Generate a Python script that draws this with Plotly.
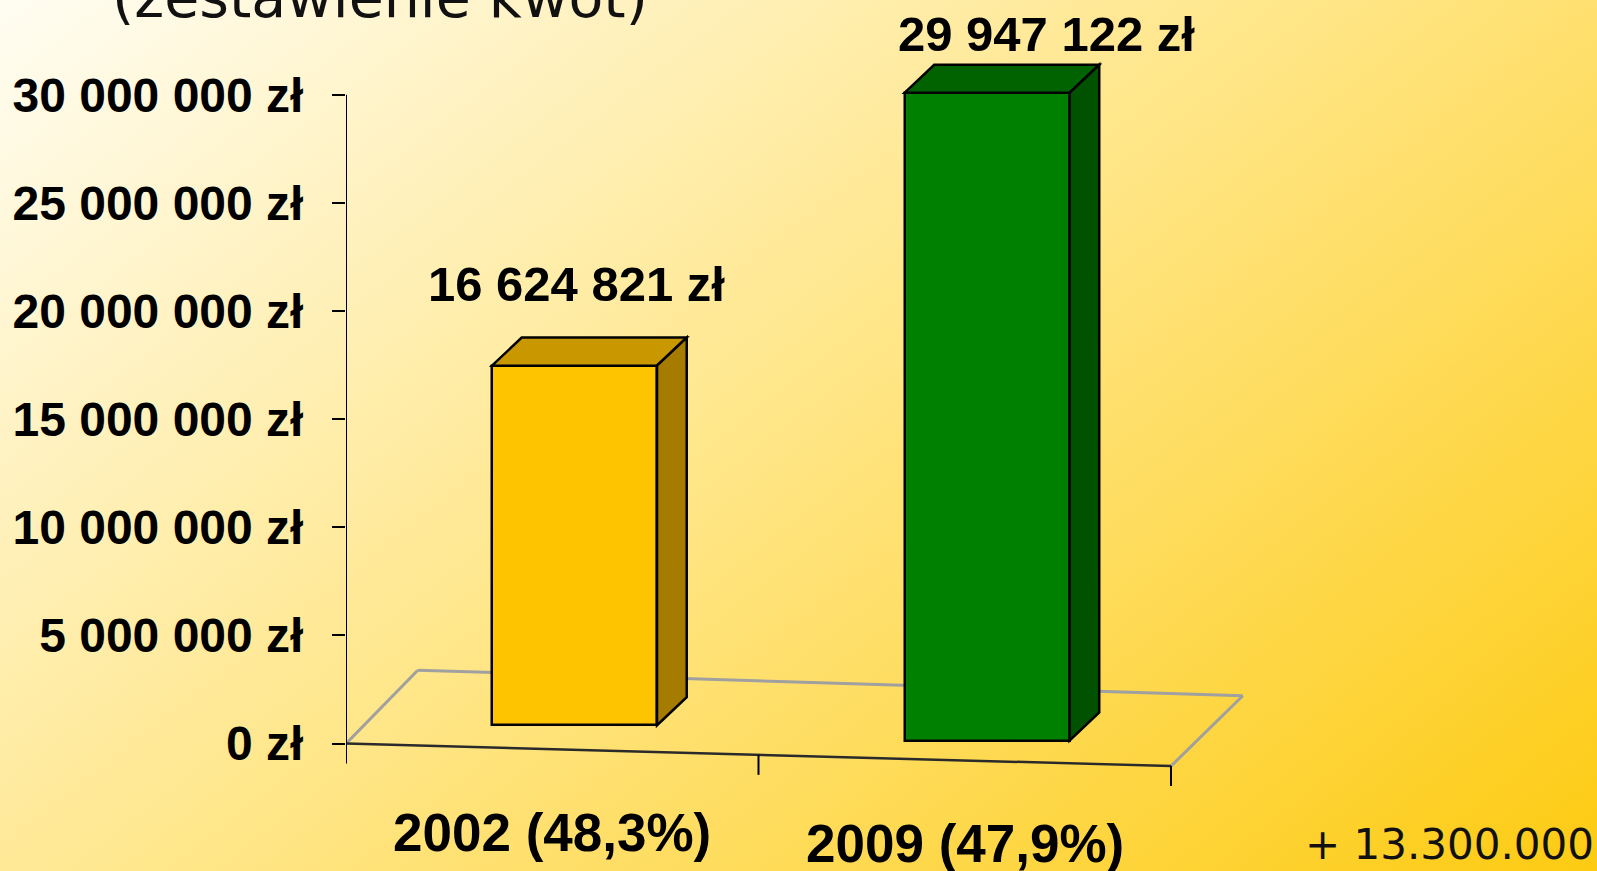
import base64
import plotly.graph_objects as go

# ---------------- data ----------------
categories = ["2002 (48,3%)", "2009 (47,9%)"]
values = [16624821, 29947122]
value_labels = ["16 624 821 zł", "29 947 122 zł"]
tick_values = [0, 5000000, 10000000, 15000000, 20000000, 25000000, 30000000]
tick_labels = ["0 zł", "5 000 000 zł", "10 000 000 zł", "15 000 000 zł",
               "20 000 000 zł", "25 000 000 zł", "30 000 000 zł"]
title_text = "(zestawienie kwot)"
note_text = "+ 13.300.000"

# ---------------- styling / geometry ----------------
W, H = 1597, 871
ML = 346                       # left margin (y axis position)
PX_PER_X = 412.5               # pixels per category unit
PX_PER_Y = 21.63 / 1e6         # pixels per zł
Y0_PX = 743.6                  # pixel row of value 0
x_range = [0, (W - ML) / PX_PER_X]
y_range = [-(H - Y0_PX) / PX_PER_Y, Y0_PX / PX_PER_Y]

front_colors = ["#FFC400", "#008000"]
top_colors = ["#C99700", "#006300"]
side_colors = ["#A57B00", "#005200"]
BAR_W = 0.40
BAR_SHIFT = 0.054              # perspective shift of bar inside category
DEPTH_X = 0.072                # 3D depth in x units
DEPTH_Y = 1.30e6               # 3D depth in y units
FLOOR_TILT = -0.52e6           # floor front edge slope per category unit
FLOOR_BACK = (0.174, 3.39e6)   # back-left floor corner
FLOOR_BACK_TILT = -0.59e6
BAR_BASE0 = 1.10e6
BAR_BASE_TILT = -0.71e6
label_shift = [(-13, 54), (45, 31)]

n = len(categories)
x_center = [i + 0.5 for i in range(n)]
x_bar = [c + BAR_SHIFT for c in x_center]
bases = [BAR_BASE0 + BAR_BASE_TILT * (xb - BAR_W / 2) for xb in x_bar]

def px2paper_x(px):
    return (px - ML) / (W - ML)

def px2paper_y(py):
    return (H - py) / H

fig = go.Figure()

fig.add_trace(go.Bar(
    x=x_bar, y=values, base=bases, width=BAR_W,
    marker=dict(color=front_colors, line=dict(color="black", width=2.5)),
    hoverinfo="skip", showlegend=False,
))

shapes = []
# floor
x_end = float(n)
floor_front = [(0, 0), (x_end, FLOOR_TILT * x_end)]
bx, by = FLOOR_BACK
floor_back = [(bx, by), (bx + x_end, by + FLOOR_BACK_TILT * x_end)]
grey = dict(color="#A0A0A0", width=3)
shapes.append(dict(type="line", xref="x", yref="y", x0=floor_front[0][0], y0=floor_front[0][1],
                   x1=floor_back[0][0], y1=floor_back[0][1], line=grey, layer="below"))
shapes.append(dict(type="line", xref="x", yref="y", x0=floor_back[0][0], y0=floor_back[0][1],
                   x1=floor_back[1][0], y1=floor_back[1][1], line=grey, layer="below"))
shapes.append(dict(type="line", xref="x", yref="y", x0=floor_front[1][0], y0=floor_front[1][1],
                   x1=floor_back[1][0], y1=floor_back[1][1], line=grey, layer="below"))
shapes.append(dict(type="line", xref="x", yref="y", x0=floor_front[0][0], y0=floor_front[0][1],
                   x1=floor_front[1][0], y1=floor_front[1][1],
                   line=dict(color="#2a2a2a", width=2.5), layer="below"))
# x-axis ticks on the front floor edge
for k in range(n + 1):
    yk = FLOOR_TILT * k
    shapes.append(dict(type="line", xref="x", yref="y", x0=k, x1=k, y0=yk,
                       y1=yk - 20 / PX_PER_Y, line=dict(color="black", width=2)))
# y axis line
shapes.append(dict(type="line", xref="x", yref="y", x0=0, x1=0, y0=0, y1=tick_values[-1],
                   line=dict(color="black", width=2)))

# 3D faces of bars
for i in range(n):
    xl = x_bar[i] - BAR_W / 2
    xr = x_bar[i] + BAR_W / 2
    b = bases[i]
    t = bases[i] + values[i]
    top_path = (f"M {xl},{t} L {xl + DEPTH_X},{t + DEPTH_Y} "
                f"L {xr + DEPTH_X},{t + DEPTH_Y} L {xr},{t} Z")
    side_path = (f"M {xr},{b} L {xr},{t} L {xr + DEPTH_X},{t + DEPTH_Y} "
                 f"L {xr + DEPTH_X},{b + DEPTH_Y} Z")
    shapes.append(dict(type="path", xref="x", yref="y", path=top_path,
                       fillcolor=top_colors[i], line=dict(color="black", width=2.5)))
    shapes.append(dict(type="path", xref="x", yref="y", path=side_path,
                       fillcolor=side_colors[i], line=dict(color="black", width=2.5)))

annotations = []
for i in range(n):
    annotations.append(dict(
        x=x_bar[i] + DEPTH_X / 2, y=bases[i] + values[i] + DEPTH_Y, xref="x", yref="y",
        text=value_labels[i], showarrow=False, xanchor="center", yanchor="middle",
        xshift=label_shift[i][0], yshift=label_shift[i][1],
        font=dict(family="Liberation Sans, Arial", size=49, color="black", weight="bold")))
    annotations.append(dict(
        x=x_center[i], y=FLOOR_TILT * x_center[i], xref="x", yref="y",
        text=categories[i], showarrow=False, xanchor="center", yanchor="middle",
        yshift=-83,
        font=dict(family="Liberation Sans, Arial", size=53, color="black", weight="bold")))

annotations.append(dict(
    x=px2paper_x(110), y=px2paper_y(32), xref="paper", yref="paper",
    text=title_text, showarrow=False, xanchor="left", yanchor="bottom",
    font=dict(family="DejaVu Sans", size=57, color="#111111")))
annotations.append(dict(
    x=px2paper_x(1303), y=0, xref="paper", yref="paper",
    text=note_text, showarrow=False, xanchor="left", yanchor="bottom",
    font=dict(family="DejaVu Sans", size=42, color="#111111")))

svg = ('<svg xmlns="http://www.w3.org/2000/svg" width="1597" height="871" '
       'viewBox="0 0 1597 871" preserveAspectRatio="none"><defs>'
       '<linearGradient id="g" gradientUnits="userSpaceOnUse" x1="0" y1="0" x2="1026" y2="1315">'
       '<stop offset="0" stop-color="#FFFDF3"/><stop offset="0.5" stop-color="#FFE584"/>'
       '<stop offset="1" stop-color="#FDCB12"/></linearGradient></defs>'
       '<rect width="1597" height="871" fill="url(#g)"/></svg>')
bg_src = "data:image/svg+xml;base64," + base64.b64encode(svg.encode()).decode()

fig.update_layout(
    width=W, height=H, autosize=False,
    margin=dict(l=ML, r=0, t=0, b=0, pad=0),
    paper_bgcolor="#FFE58E", plot_bgcolor="rgba(0,0,0,0)",
    images=[dict(source=bg_src, xref="paper", yref="paper",
                 x=px2paper_x(0), y=1, sizex=W / (W - ML), sizey=1,
                 xanchor="left", yanchor="top", sizing="stretch", layer="below")],
    xaxis=dict(range=x_range, visible=False, fixedrange=True),
    yaxis=dict(range=y_range, tickvals=tick_values, ticktext=tick_labels,
               showgrid=False, zeroline=False, showline=False,
               ticks="outside", ticklen=13, tickwidth=2, tickcolor="black",
               ticklabelstandoff=19,
               tickfont=dict(family="Liberation Sans, Arial", size=48, color="black", weight="bold"),
               fixedrange=True),
    shapes=shapes, annotations=annotations,
    bargap=0, showlegend=False,
)

fig.write_html("out.html", config={"displayModeBar": False},
               post_script="document.body.style.margin='0px';document.body.style.overflow='hidden';")
